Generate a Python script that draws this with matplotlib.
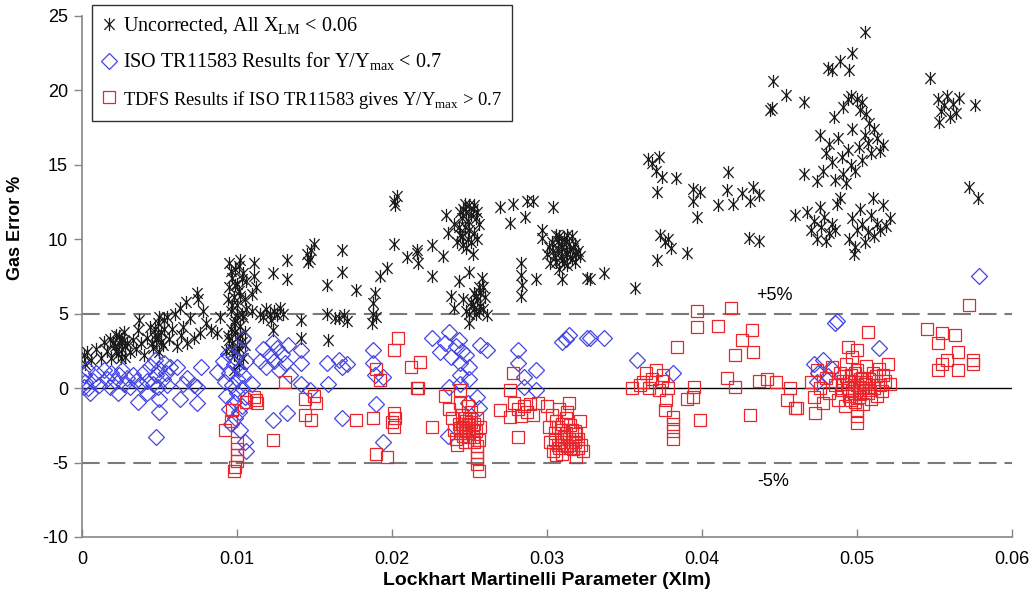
import matplotlib
matplotlib.use("Agg")
import matplotlib.pyplot as plt
from matplotlib.path import Path

plt.rcParams["font.family"] = ["Liberation Sans", "DejaVu Sans"]
plt.rcParams["mathtext.fontset"] = "custom"
plt.rcParams["mathtext.rm"] = "Liberation Serif"
plt.rcParams["axes.unicode_minus"] = False

# (Xlm, gas error %) for each data set
uncorrected = [
    (0.0001, 2.2), (0.0002, 1.6), (0.0003, 2.4), (0.0006, 1.9), (0.0009, 2.6), (0.0012, 2.0),
    (0.0014, 3.1), (0.0016, 2.5), (0.0018, 3.3), (0.0019, 2.0), (0.0021, 2.8), (0.0022, 3.6),
    (0.0023, 2.3), (0.0024, 3.0), (0.0025, 3.3), (0.0026, 2.6), (0.0027, 3.8), (0.0028, 2.1),
    (0.0029, 3.0), (0.0031, 2.4), (0.0033, 3.2), (0.0035, 2.6),
    (0.0020, 3.0), (0.0022, 2.5), (0.0024, 3.5), (0.0026, 3.1), (0.0028, 2.8), (0.0025, 2.0),
    (0.0037, 4.6), (0.0036, 3.9), (0.0038, 3.0), (0.0040, 2.2), (0.0042, 3.4), (0.0044, 4.1),
    (0.0046, 2.7), (0.0047, 3.6), (0.0048, 3.2), (0.0049, 4.4), (0.0050, 2.4), (0.0051, 3.8),
    (0.0052, 2.9), (0.0053, 4.6), (0.0055, 4.8), (0.0056, 3.3), (0.0058, 4.0), (0.0060, 5.0),
    (0.0061, 2.8), (0.0063, 5.4), (0.0064, 3.6), (0.0065, 4.1), (0.0067, 5.8), (0.0068, 3.0),
    (0.0070, 4.7), (0.0072, 3.4), (0.0074, 6.4), (0.0075, 6.0), (0.0076, 3.7), (0.0078, 5.2),
    (0.0080, 4.4), (0.0083, 3.9), (0.0087, 3.7), (0.0089, 4.8),
    (0.0045, 3.0), (0.0047, 4.0), (0.0049, 3.5), (0.0051, 3.1), (0.0053, 4.0), (0.0050, 4.8),
    (0.0093, 2.5), (0.0094, 3.5), (0.0095, 8.4), (0.0095, 6.8), (0.0096, 5.2), (0.0096, 4.0),
    (0.0097, 7.4), (0.0097, 3.0), (0.0098, 6.1), (0.0098, 2.2), (0.0099, 8.0), (0.0099, 4.6),
    (0.0100, 5.6), (0.0100, 3.4), (0.0100, 7.0), (0.0101, 2.7), (0.0101, 6.5), (0.0102, 4.2),
    (0.0102, 8.6), (0.0103, 5.0), (0.0103, 3.1), (0.0104, 7.7), (0.0104, 2.0), (0.0105, 6.0),
    (0.0105, 3.8), (0.0106, 5.3), (0.0106, 7.2), (0.0098, 1.2), (0.0101, 1.6),
    (0.0094, 6.0), (0.0096, 7.9), (0.0097, 5.6), (0.0098, 4.4), (0.0099, 6.9), (0.0100, 2.5),
    (0.0100, 4.9), (0.0101, 8.2), (0.0102, 3.6), (0.0102, 6.2), (0.0103, 7.3), (0.0104, 4.8),
    (0.0105, 2.9), (0.0095, 3.2), (0.0097, 2.6), (0.0099, 3.8),
    (0.0110, 5.2), (0.0110, 6.3), (0.0111, 7.5), (0.0111, 8.4), (0.0112, 6.8), (0.0115, 5.0),
    (0.0117, 4.8), (0.0119, 5.3), (0.0121, 5.0), (0.0122, 4.6), (0.0123, 7.7), (0.0123, 3.9),
    (0.0124, 5.2), (0.0126, 4.9), (0.0128, 5.4), (0.0130, 5.0), (0.0132, 8.6), (0.0132, 7.3),
    (0.0141, 4.6), (0.0141, 3.4), (0.0145, 9.0), (0.0147, 8.7), (0.0148, 9.3), (0.0150, 9.7),
    (0.0146, 8.5),
    (0.0158, 6.9), (0.0158, 5.0), (0.0159, 3.2), (0.0163, 4.7), (0.0166, 4.7), (0.0168, 9.3),
    (0.0168, 7.8), (0.0169, 4.9), (0.0171, 4.5), (0.0177, 6.6), (0.0187, 4.4), (0.0188, 5.0),
    (0.0188, 5.7), (0.0189, 6.4), (0.0190, 4.8), (0.0192, 7.5), (0.0197, 8.1), (0.0201, 9.7),
    (0.0201, 12.6), (0.0203, 12.9), (0.0202, 12.3), (0.0210, 8.8), (0.0216, 9.1), (0.0216, 9.3),
    (0.0217, 8.4),
    (0.0226, 9.6), (0.0226, 7.5), (0.0233, 8.9), (0.0236, 10.4), (0.0238, 6.2), (0.0240, 11.0),
    (0.0240, 5.4), (0.0242, 9.8), (0.0243, 7.2), (0.0244, 11.8), (0.0245, 10.2), (0.0246, 6.0),
    (0.0247, 12.4), (0.0248, 9.4), (0.0248, 5.2), (0.0249, 11.2), (0.0250, 10.6), (0.0250, 7.8),
    (0.0250, 4.4), (0.0251, 5.8), (0.0252, 12.0), (0.0252, 9.0), (0.0253, 6.4), (0.0254, 11.4),
    (0.0254, 5.0), (0.0255, 10.0), (0.0256, 6.8), (0.0257, 5.5), (0.0258, 7.4), (0.0259, 5.3),
    (0.0260, 6.1), (0.0261, 4.9), (0.0235, 11.6), (0.0256, 11.0),
    (0.0243, 10.8), (0.0245, 11.4), (0.0246, 9.6), (0.0247, 10.8), (0.0248, 11.8), (0.0249, 10.0),
    (0.0251, 11.6), (0.0251, 9.8), (0.0253, 10.4), (0.0253, 12.3), (0.0255, 11.8), (0.0246, 12.0),
    (0.0250, 12.3), (0.0244, 10.3),
    (0.0250, 5.0), (0.0252, 5.6), (0.0254, 6.2), (0.0256, 5.2), (0.0257, 6.4), (0.0259, 6.8),
    (0.0253, 5.3), (0.0255, 5.9),
    (0.0270, 12.2), (0.0276, 11.1), (0.0278, 12.4), (0.0283, 8.4), (0.0283, 7.6), (0.0284, 6.9),
    (0.0283, 6.2), (0.0286, 11.5), (0.0287, 12.6), (0.0291, 12.6), (0.0293, 7.3), (0.0297, 10.6),
    (0.0297, 10.1), (0.0304, 12.2),
    (0.0300, 9.0), (0.0302, 8.4), (0.0303, 9.8), (0.0305, 8.8), (0.0306, 10.3), (0.0307, 9.3),
    (0.0308, 8.0), (0.0309, 9.6), (0.0310, 8.6), (0.0311, 10.0), (0.0312, 9.1), (0.0313, 8.3),
    (0.0314, 9.7), (0.0315, 8.8), (0.0316, 10.2), (0.0317, 9.4), (0.0318, 8.5), (0.0320, 9.2),
    (0.0321, 8.9), (0.0310, 7.3), (0.0326, 7.4), (0.0328, 7.3), (0.0337, 7.7), (0.0357, 6.7),
    (0.0301, 9.5), (0.0304, 9.2), (0.0306, 8.5), (0.0307, 9.9), (0.0309, 8.9), (0.0310, 9.4),
    (0.0311, 8.4), (0.0312, 9.8), (0.0313, 9.0), (0.0315, 9.3), (0.0316, 8.7), (0.0318, 9.7),
    (0.0319, 9.0), (0.0308, 10.2), (0.0313, 10.3),
    (0.0365, 15.4), (0.0368, 15.1), (0.0370, 14.6), (0.0372, 15.5), (0.0374, 14.2), (0.0371, 13.2),
    (0.0383, 14.1), (0.0373, 10.3), (0.0376, 9.8), (0.0378, 10.0), (0.0380, 9.4), (0.0371, 8.6),
    (0.0390, 9.1), (0.0394, 13.4), (0.0399, 13.2), (0.0394, 12.6), (0.0397, 11.5), (0.0417, 14.5),
    (0.0416, 13.3), (0.0410, 12.3), (0.0420, 12.4), (0.0426, 13.1), (0.0433, 13.5), (0.0437, 13.0),
    (0.0431, 12.6), (0.0430, 10.1), (0.0437, 9.9), (0.0444, 18.7), (0.0460, 11.6),
    (0.0446, 20.6), (0.0454, 19.7), (0.0445, 18.8), (0.0466, 19.2), (0.0466, 14.4),
    (0.0505, 23.9), (0.0489, 22.0), (0.0497, 22.5), (0.0481, 21.5), (0.0484, 21.4), (0.0495, 21.4),
    (0.0494, 19.4), (0.0500, 19.4), (0.0491, 18.9), (0.0496, 19.6), (0.0503, 19.2), (0.0506, 18.4),
    (0.0508, 17.8), (0.0485, 18.2), (0.0502, 18.7),
    (0.0476, 17.0), (0.0480, 15.8), (0.0478, 14.6), (0.0482, 16.4), (0.0484, 15.2), (0.0486, 14.0),
    (0.0488, 16.8), (0.0490, 15.5), (0.0491, 14.4), (0.0493, 13.8), (0.0494, 16.0), (0.0496, 15.0),
    (0.0497, 17.4), (0.0499, 14.6), (0.0501, 16.2), (0.0503, 15.3), (0.0505, 17.0), (0.0507, 16.5),
    (0.0509, 15.8), (0.0511, 17.4), (0.0513, 16.8), (0.0515, 15.9), (0.0517, 16.3), (0.0489, 12.8),
    (0.0510, 12.8), (0.0474, 13.9),
    (0.0468, 11.8), (0.0470, 10.6), (0.0472, 11.2), (0.0474, 10.0), (0.0476, 12.2), (0.0477, 10.8),
    (0.0479, 11.5), (0.0480, 9.9), (0.0482, 10.4), (0.0484, 11.0), (0.0486, 10.6), (0.0487, 12.4),
    (0.0495, 10.0), (0.0497, 11.4), (0.0499, 9.5), (0.0500, 10.6), (0.0502, 12.0), (0.0503, 11.0),
    (0.0505, 9.8), (0.0507, 10.5), (0.0509, 11.6), (0.0511, 10.2), (0.0513, 11.0), (0.0515, 10.6),
    (0.0517, 12.3), (0.0519, 10.9), (0.0521, 11.4), (0.0498, 9.0),
    (0.0547, 20.8), (0.0552, 19.4), (0.0554, 18.6), (0.0556, 19.0), (0.0558, 19.6), (0.0560, 18.2),
    (0.0562, 19.1), (0.0564, 18.5), (0.0566, 19.5), (0.0553, 17.9), (0.0576, 19.0), (0.0572, 13.5),
    (0.0578, 12.8),
]

iso_results = [
    (0.0001, 0.1), (0.0001, 0.9), (0.0002, 0.4), (0.0003, 1.3), (0.0004, 0.0), (0.0005, -0.3),
    (0.0007, 0.5), (0.0009, 1.0), (0.0011, 0.2), (0.0014, 1.2), (0.0016, 0.6), (0.0018, 0.1),
    (0.0019, 1.0), (0.0021, 0.5), (0.0023, -0.35), (0.0024, 0.9), (0.0026, 1.2), (0.0027, 0.3),
    (0.0029, 0.7), (0.0031, 0.1), (0.0033, 0.9), (0.0035, 0.5), (0.0036, -0.9), (0.0038, 0.2),
    (0.0040, 1.1), (0.0042, 0.5), (0.0042, -0.35), (0.0044, 1.5), (0.0046, 0.3), (0.0047, 1.9),
    (0.0048, 0.9), (0.0049, 0.1), (0.0050, 1.3), (0.0050, -0.7), (0.0050, -1.6), (0.0048, -3.3),
    (0.0052, 0.6), (0.0053, 1.7), (0.0054, 1.0), (0.0055, 0.2), (0.0057, 1.4), (0.0061, 1.4),
    (0.0063, -0.7), (0.0065, 0.3), (0.0068, 0.7), (0.0072, 0.2), (0.0074, 0.07), (0.0074, -1.0),
    (0.0077, 1.4), (0.0087, 1.1),
    (0.0091, 1.8), (0.0092, 0.4), (0.0093, -0.5), (0.0094, 2.3), (0.0095, 1.0), (0.0095, -1.4),
    (0.0096, -2.4), (0.0097, 0.2), (0.0098, 1.6), (0.0098, -0.9), (0.0099, 2.0), (0.0099, -2.0),
    (0.0100, 0.6), (0.0100, -0.3), (0.0101, 1.3), (0.0101, -1.6), (0.0102, 2.6), (0.0102, -2.8),
    (0.0103, 0.0), (0.0103, -1.2), (0.0104, 0.9), (0.0104, 3.4), (0.0105, -3.6), (0.0105, -0.6),
    (0.0106, 1.8), (0.0106, -4.2),
    (0.0110, 0.3), (0.0115, 1.8), (0.0117, 2.6), (0.0119, 1.4), (0.0121, 2.2), (0.0123, 3.1),
    (0.0124, 1.8), (0.0126, 2.7), (0.0127, 1.2), (0.0129, 2.3), (0.0131, 1.7), (0.0133, 2.9),
    (0.0134, 0.9), (0.0141, 2.55), (0.0141, 1.7), (0.0141, 0.3), (0.0147, -0.1), (0.0123, -2.15),
    (0.0132, -1.7), (0.0158, 1.7), (0.0159, 0.3), (0.0166, 1.9), (0.0168, 1.4), (0.0171, 1.6),
    (0.0168, -2.0), (0.0188, 2.55), (0.0188, 1.7), (0.0189, 0.9), (0.0194, 0.75), (0.0190, -1.1),
    (0.0194, -3.6),
    (0.0226, 3.4), (0.0237, 3.8), (0.0231, 2.4), (0.0234, 3.0), (0.0238, 2.1), (0.0241, 2.8),
    (0.0243, 3.2), (0.0245, 2.5), (0.0248, 2.2), (0.0257, 2.9), (0.0261, 2.55), (0.0244, 1.7),
    (0.0244, 0.9), (0.0244, 0.3), (0.0250, 1.4), (0.0250, 0.6), (0.0237, 0.07), (0.0255, -0.6),
    (0.0256, -1.35), (0.0236, -3.2), (0.0249, -1.0),
    (0.0281, 2.55), (0.0281, 1.7), (0.0285, 0.75), (0.0285, 0.07), (0.0293, 1.2), (0.0293, -0.15),
    (0.0310, 3.1), (0.0312, 3.3), (0.0314, 3.6), (0.0326, 3.4), (0.0328, 3.4), (0.0337, 3.4),
    (0.0358, 1.9), (0.0381, 1.0),
    (0.0486, 4.4), (0.0487, 4.5), (0.0514, 2.7), (0.0472, 1.6), (0.0475, 1.0), (0.0478, 1.9),
    (0.0481, 0.8), (0.0484, 1.3), (0.0474, 0.4), (0.0579, 7.5),
]

tdfs_results = [
    (0.0097, -1.5), (0.0092, -2.8), (0.0096, -2.2), (0.0100, -3.7), (0.0100, -4.1), (0.0100, -4.5),
    (0.0100, -4.9), (0.0099, -5.3), (0.0098, -5.6), (0.0106, -0.9),
    (0.0112, -0.8), (0.0111, -0.6), (0.0113, -1.0), (0.0131, 0.4), (0.0123, -3.5), (0.0144, -0.7),
    (0.0150, -0.5), (0.0151, -1.0), (0.0144, -1.8), (0.0148, -2.15),
    (0.0177, -2.15), (0.0188, -2.0), (0.0190, 1.3), (0.0192, 0.55), (0.0201, 2.55), (0.0204, 3.4),
    (0.0212, 1.4), (0.0216, 0.0), (0.0201, -1.7), (0.0202, -2.0), (0.0200, -2.3), (0.0201, -2.6),
    (0.0190, -4.4), (0.0197, -4.6), (0.0218, 1.75), (0.0217, 0.0),
    (0.0234, -0.5), (0.0226, -2.6), (0.0244, -0.15), (0.0244, -1.0), (0.0237, -1.4), (0.0239, -2.0),
    (0.0240, -2.8), (0.0241, -3.4), (0.0243, -2.4), (0.0244, -3.0), (0.0245, -1.8), (0.0246, -2.6),
    (0.0247, -3.6), (0.0248, -2.2), (0.0249, -3.0), (0.0250, -2.7), (0.0251, -1.6), (0.0252, -3.3),
    (0.0253, -2.4), (0.0254, -2.9), (0.0255, -2.0), (0.0256, -3.5), (0.0257, -2.6), (0.0255, -3.9),
    (0.0255, -4.3), (0.0255, -4.7), (0.0255, -5.1), (0.0256, -5.6), (0.0242, -3.8), (0.0249, -1.2),
    (0.0245, -2.4), (0.0246, -3.2), (0.0247, -2.0), (0.0248, -2.9), (0.0249, -2.5), (0.0250, -3.3),
    (0.0251, -2.3), (0.0252, -2.8), (0.0253, -3.6), (0.0247, -2.8), (0.0250, -2.1), (0.0244, -2.7),
    (0.0278, 1.0), (0.0276, -0.15), (0.0270, -1.5), (0.0276, -1.95), (0.0279, -1.0), (0.0281, -1.4),
    (0.0283, -1.9), (0.0285, -1.2), (0.0287, -1.6), (0.0289, -1.1), (0.0291, -1.8), (0.0281, -3.3),
    (0.0294, -1.0),
    (0.0300, -1.2), (0.0301, -2.6), (0.0302, -3.6), (0.0303, -1.8), (0.0304, -4.2), (0.0305, -3.0),
    (0.0306, -2.2), (0.0307, -3.8), (0.0308, -1.4), (0.0309, -2.8), (0.0310, -4.4), (0.0311, -3.3),
    (0.0312, -2.0), (0.0313, -3.9), (0.0314, -1.0), (0.0315, -2.5), (0.0316, -3.6), (0.0317, -4.1),
    (0.0318, -2.9), (0.0319, -4.6), (0.0320, -3.4), (0.0321, -2.2), (0.0322, -3.8), (0.0323, -4.2),
    (0.0306, -4.5), (0.0313, -1.6),
    (0.0305, -3.5), (0.0307, -2.6), (0.0309, -3.4), (0.0310, -2.4), (0.0311, -3.8), (0.0312, -3.0),
    (0.0314, -3.4), (0.0315, -4.0), (0.0316, -2.8), (0.0318, -3.6), (0.0319, -3.1), (0.0320, -4.0),
    (0.0308, -4.0),
    (0.0355, 0.0), (0.0360, 0.2), (0.0362, 0.4), (0.0364, 1.0), (0.0366, 0.0), (0.0368, 0.6),
    (0.0370, 1.2), (0.0372, -0.1), (0.0374, 0.5), (0.0375, 0.9), (0.0378, 0.0), (0.0377, -0.8),
    (0.0376, -1.5), (0.0381, -1.95), (0.0381, -2.4), (0.0381, -2.9), (0.0381, -3.4), (0.0384, 2.75),
    (0.0397, 5.2), (0.0419, 5.4), (0.0397, 4.1), (0.0410, 4.2), (0.0432, 3.9), (0.0426, 3.2),
    (0.0433, 2.4), (0.0421, 2.2), (0.0395, 0.07), (0.0390, -0.7), (0.0394, -0.6), (0.0399, -2.15),
    (0.0416, 0.7), (0.0421, 0.07), (0.0431, -1.8), (0.0437, 0.5), (0.0442, 0.6), (0.0448, 0.4),
    (0.0457, 0.0), (0.0455, -0.8), (0.0460, -1.35),
    (0.0507, 3.8), (0.0494, 2.75), (0.0500, 2.55), (0.0497, 2.1), (0.0461, -1.35), (0.0473, -1.7),
    (0.0500, -1.5), (0.0500, -1.9), (0.0500, -2.35),
    (0.0470, 0.4), (0.0472, -0.6), (0.0474, 1.2), (0.0476, 0.0), (0.0478, -1.0), (0.0480, 0.7),
    (0.0482, -0.3), (0.0484, 1.4), (0.0486, 0.2), (0.0488, -0.8), (0.0489, 1.0), (0.0490, -0.1),
    (0.0491, 0.5), (0.0492, -1.2), (0.0493, 1.6), (0.0494, 0.0), (0.0495, -0.5), (0.0496, 0.9),
    (0.0497, -0.2), (0.0498, 0.4), (0.0499, -0.9), (0.0500, 1.2), (0.0501, 0.1), (0.0502, -0.4),
    (0.0503, 0.7), (0.0504, -1.1), (0.0505, 0.3), (0.0506, 1.5), (0.0507, -0.3), (0.0508, 0.6),
    (0.0509, -0.7), (0.0510, 1.0), (0.0511, 0.0), (0.0512, 0.8), (0.0513, -0.5), (0.0514, 1.3),
    (0.0515, 0.2), (0.0516, -0.2), (0.0517, 0.9), (0.0518, 0.5), (0.0520, 1.6), (0.0521, 0.3),
    (0.0490, 0.3), (0.0495, 0.5), (0.0498, -0.3), (0.0500, 0.2), (0.0502, 0.6), (0.0504, 0.0),
    (0.0506, 0.4), (0.0508, -0.1), (0.0496, -0.8), (0.0501, -0.6), (0.0493, 0.8), (0.0499, 1.0),
    (0.0572, 5.6), (0.0545, 4.0), (0.0555, 3.7), (0.0563, 3.6), (0.0552, 3.0), (0.0565, 2.4),
    (0.0552, 1.2), (0.0555, 1.6), (0.0558, 1.9), (0.0565, 1.2), (0.0575, 1.9), (0.0575, 1.6),
]

x_ticks = [0, 0.01, 0.02, 0.03, 0.04, 0.05, 0.06]
x_tick_labels = ["0", "0.01", "0.02", "0.03", "0.04", "0.05", "0.06"]
y_ticks = [-10, -5, 0, 5, 10, 15, 20, 25]
band = 5

# six-armed asterisk: an X plus a vertical stroke
star = Path(
    [(-0.85, -0.9), (0.85, 0.9), (-0.85, 0.9), (0.85, -0.9), (0, -1.1), (0, 1.1)],
    [Path.MOVETO, Path.LINETO, Path.MOVETO, Path.LINETO, Path.MOVETO, Path.LINETO],
)

fig = plt.figure(figsize=(10.35, 6.03), dpi=100)
ax = fig.add_axes([0.0792, 0.1095, 0.8986, 0.864])

ax.plot([0, 0.06], [0, 0], color="black", lw=1.0, zorder=1)
for level in (band, -band):
    ax.plot([0, 0.06], [level, level], color="#7a7a7a", lw=1.5, dashes=(8.5, 3.8), zorder=1)

ux, uy = zip(*uncorrected)
ix, iy = zip(*iso_results)
tx, ty = zip(*tdfs_results)
ax.plot(ux, uy, ls="none", marker=star, ms=9.5, mew=0.9, color="#1a1a1a",
        label=r"Uncorrected, All X$_{\mathrm{LM}}$ < 0.06", zorder=3)
ax.plot(ix, iy, ls="none", marker="D", ms=7.8, mew=0.9, mfc="none", mec="#4444e0",
        label=r"ISO TR11583 Results for Y/Y$_{\mathrm{max}}$ < 0.7", zorder=4)
ax.plot(tx, ty, ls="none", marker="s", ms=8, mew=0.9, mfc="none", mec="#e8262b",
        label=r"TDFS Results if ISO TR11583 gives Y/Y$_{\mathrm{max}}$ > 0.7", zorder=5)

ax.text(0.0447, 6.25, "+5%", fontsize=13, ha="center", va="center")
ax.text(0.0446, -6.25, "-5%", fontsize=13, ha="center", va="center")

ax.set_xlim(0, 0.06)
ax.set_ylim(-10, 25)
ax.set_xticks(x_ticks)
ax.set_xticklabels(x_tick_labels)
ax.set_yticks(y_ticks)
ax.tick_params(axis="y", direction="out", length=6, width=1, color="#868686", labelsize=13, pad=4)
ax.tick_params(axis="x", direction="in", length=6, width=1, color="#868686", labelsize=13, pad=10)
for side in ("top", "right"):
    ax.spines[side].set_visible(False)
for side in ("left", "bottom"):
    ax.spines[side].set_color("#868686")
    ax.spines[side].set_linewidth(1.2)

ax.set_xlabel("Lockhart Martinelli Parameter (Xlm)", fontsize=14, fontweight="bold", labelpad=3)
ax.set_ylabel("Gas Error %", fontsize=13, fontweight="bold")
ax.yaxis.set_label_coords(-0.062, 0.593)

leg = ax.legend(loc="upper left", bbox_to_anchor=(0.0108, 1.021), frameon=True, fancybox=False,
                edgecolor="black", prop={"family": "Liberation Serif", "size": 14.5},
                handletextpad=0.35, handlelength=0.7, labelspacing=0.75, borderpad=0.5,
                borderaxespad=0)
leg.get_frame().set_linewidth(1.0)
leg.get_texts()[2].set_fontsize(13.4)

fig.savefig("out.png", dpi=100)
